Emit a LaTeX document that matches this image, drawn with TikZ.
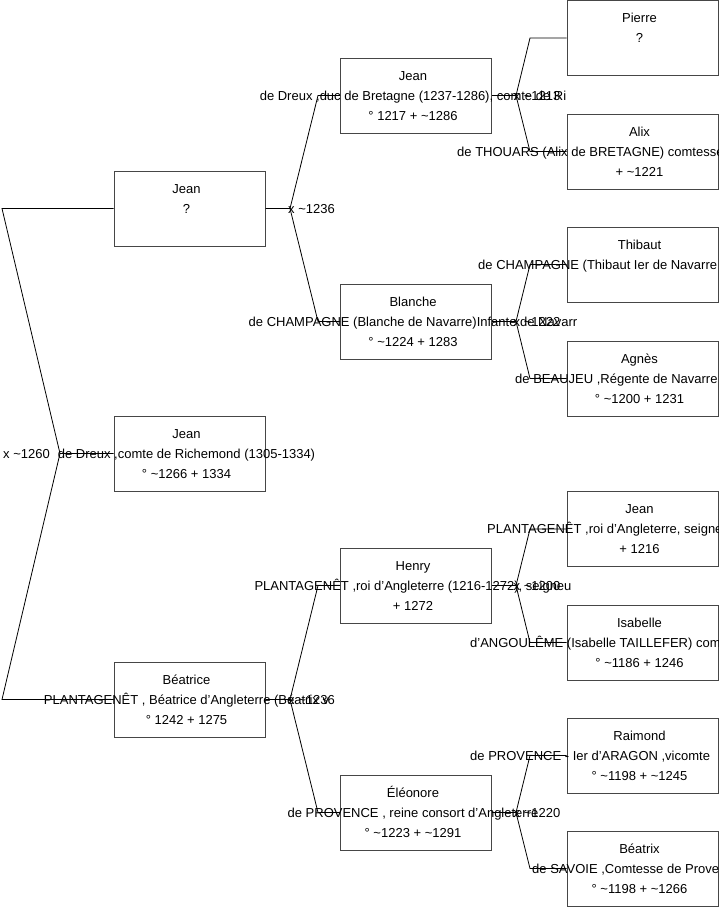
\documentclass[tikz,border=0pt]{standalone}
\usepackage{fontspec}
\setmainfont{Liberation Sans}
\usetikzlibrary{positioning}
\definecolor{boxgray}{RGB}{70,70,70}
\newcommand{\apx}{\textasciitilde}

\begin{document}
\begin{tikzpicture}[x=1pt,y=-1pt,
    personbox/.style={draw=boxgray,line width=1pt,minimum width=151pt,minimum height=75pt,inner sep=0pt},
    txt/.style={inner sep=0pt,anchor=base,font=\fontsize{13}{15}\selectfont},
    wtxt/.style={txt,anchor=base west},
    link/.style={line width=0.8pt}
  ]
  \useasboundingbox (0,0) rectangle (719,908);
  \clip (0,0) rectangle (719,908);
  % Column 0
  \node[personbox] (jeanq) at (189.5,208.5) {};
  \node[txt] at (186.5,193) {Jean};
  \node[txt] at (186.5,213) {?};
  \node[personbox] (jdreux) at (189.5,453.5) {};
  \node[txt] at (186.5,438) {Jean};
  \node[txt] at (186.5,458) {de Dreux ,comte de Richemond (1305-1334)};
  \node[txt] at (186.5,478) {° \apx1266 + 1334};
  \node[personbox] (beatrice) at (189.5,699.5) {};
  \node[txt] at (186.5,684) {Béatrice};
  \node[txt] at (186.5,704) {PLANTAGENÊT , Béatrice d'Angleterre (Béatrix v};
  \node[txt] at (186.5,724) {° 1242 + 1275};
  % Column 1
  \node[personbox] (jeanb) at (416,95.5) {};
  \node[txt] at (413,80) {Jean};
  \node[txt] at (413,100) {de Dreux ,duc de Bretagne (1237-1286), comte de Ri};
  \node[txt] at (413,120) {° 1217 + \apx1286};
  \node[personbox] (blanche) at (416,321.5) {};
  \node[txt] at (413,306) {Blanche};
  \node[txt] at (413,326) {de CHAMPAGNE (Blanche de Navarre)Infante de Navarr};
  \node[txt] at (413,346) {° \apx1224 + 1283};
  \node[personbox] (henry) at (416,585.5) {};
  \node[txt] at (413,570) {Henry};
  \node[txt] at (413,590) {PLANTAGENÊT ,roi d'Angleterre (1216-1272), seigneu};
  \node[txt] at (413,610) {+ 1272};
  \node[personbox] (eleonore) at (416,812.5) {};
  \node[txt] at (413,797) {Éléonore};
  \node[txt] at (413,817) {de PROVENCE , reine consort d'Angleterre};
  \node[txt] at (413,837) {° \apx1223 + \apx1291};
  % Column 2 (cut at the right edge)
  \node[personbox] (pierre) at (642.5,38) {};
  \node[txt] at (639.5,22.5) {Pierre};
  \node[txt] at (639.5,42.5) {?};
  \node[personbox] (alix) at (642.5,151.5) {};
  \node[txt] at (639.5,136) {Alix};
  \node[wtxt] at (457,156) {de THOUARS (Alix de BRETAGNE) comtesse};
  \node[txt] at (639.5,176) {+ \apx1221};
  \node[personbox] (thibaut) at (642.5,264.5) {};
  \node[txt] at (639.5,249) {Thibaut};
  \node[wtxt] at (478,269) {de CHAMPAGNE (Thibaut Ier de Navarre};
  \node[personbox] (agnes) at (642.5,378.5) {};
  \node[txt] at (639.5,363) {Agnès};
  \node[wtxt] at (515,383) {de BEAUJEU ,Régente de Navarre};
  \node[txt] at (639.5,403) {° \apx1200 + 1231};
  \node[personbox] (jeanr) at (642.5,529) {};
  \node[txt] at (639.5,513.5) {Jean};
  \node[wtxt] at (487,533.5) {PLANTAGENÊT ,roi d'Angleterre, seigneur};
  \node[txt] at (639.5,553.5) {+ 1216};
  \node[personbox] (isabelle) at (642.5,642.5) {};
  \node[txt] at (639.5,627) {Isabelle};
  \node[wtxt] at (470,647) {d'ANGOULÊME (Isabelle TAILLEFER) comtesse};
  \node[txt] at (639.5,667) {° \apx1186 + 1246};
  \node[personbox] (raimond) at (642.5,755.5) {};
  \node[txt] at (639.5,740) {Raimond};
  \node[wtxt] at (470,760) {de PROVENCE - Ier d'ARAGON ,vicomte};
  \node[txt] at (639.5,780) {° \apx1198 + \apx1245};
  \node[personbox] (beatrix) at (642.5,868.5) {};
  \node[txt] at (639.5,853) {Béatrix};
  \node[wtxt] at (532,873) {de SAVOIE ,Comtesse de Provence};
  \node[txt] at (639.5,893) {° \apx1198 + \apx1266};
  % Marriage junctions
  \coordinate (m0) at (60,453.5);   \coordinate (m0a) at (2,208.5);   \coordinate (m0b) at (2,699.5);
  \coordinate (m1) at (290,208.5);  \coordinate (m1a) at (318,95.5);  \coordinate (m1b) at (318,321.5);
  \coordinate (m2) at (290,699.5);  \coordinate (m2a) at (318,585.5); \coordinate (m2b) at (318,812.5);
  \coordinate (m3) at (516,95.5);   \coordinate (m3a) at (530,38);    \coordinate (m3b) at (530,151.5);
  \coordinate (m4) at (516,321.5);  \coordinate (m4a) at (530,264.5); \coordinate (m4b) at (530,378.5);
  \coordinate (m5) at (516,585.5);  \coordinate (m5a) at (530,529);   \coordinate (m5b) at (530,642.5);
  \coordinate (m6) at (516,812.5);  \coordinate (m6a) at (530,755.5); \coordinate (m6b) at (530,868.5);
  \node[wtxt] (x0) at (3,458) {x \apx1260};
  \node[wtxt] (x1) at (288,213) {x \apx1236};
  \node[wtxt] (x2) at (288,704) {x \apx1236};
  \node[wtxt] (x3) at (513.5,100) {x \apx1213};
  \node[wtxt] (x4) at (513.5,326) {x \apx1222};
  \node[wtxt] (x5) at (513.5,590) {x \apx1200};
  \node[wtxt] (x6) at (513.5,817) {x \apx1220};
  % Connectors
  \draw[link] (jdreux.west) -- (m0) -- (m0a) -- (jeanq.west);
  \draw[link] (m0) -- (m0b) -- (beatrice.west);
  \draw[link] (jeanq.east) -- (m1) -- (m1a) -- (jeanb.west);
  \draw[link] (m1) -- (m1b) -- (blanche.west);
  \draw[link] (beatrice.east) -- (m2) -- (m2a) -- (henry.west);
  \draw[link] (m2) -- (m2b) -- (eleonore.west);
  \draw[link] (jeanb.east) -- (m3) -- (m3a) -- (pierre.west);
  \draw[link] (m3) -- (m3b) -- (alix.west);
  \draw[link] (blanche.east) -- (m4) -- (m4a) -- (thibaut.west);
  \draw[link] (m4) -- (m4b) -- (agnes.west);
  \draw[link] (henry.east) -- (m5) -- (m5a) -- (jeanr.west);
  \draw[link] (m5) -- (m5b) -- (isabelle.west);
  \draw[link] (eleonore.east) -- (m6) -- (m6a) -- (raimond.west);
  \draw[link] (m6) -- (m6b) -- (beatrix.west);
\end{tikzpicture}
\end{document}
